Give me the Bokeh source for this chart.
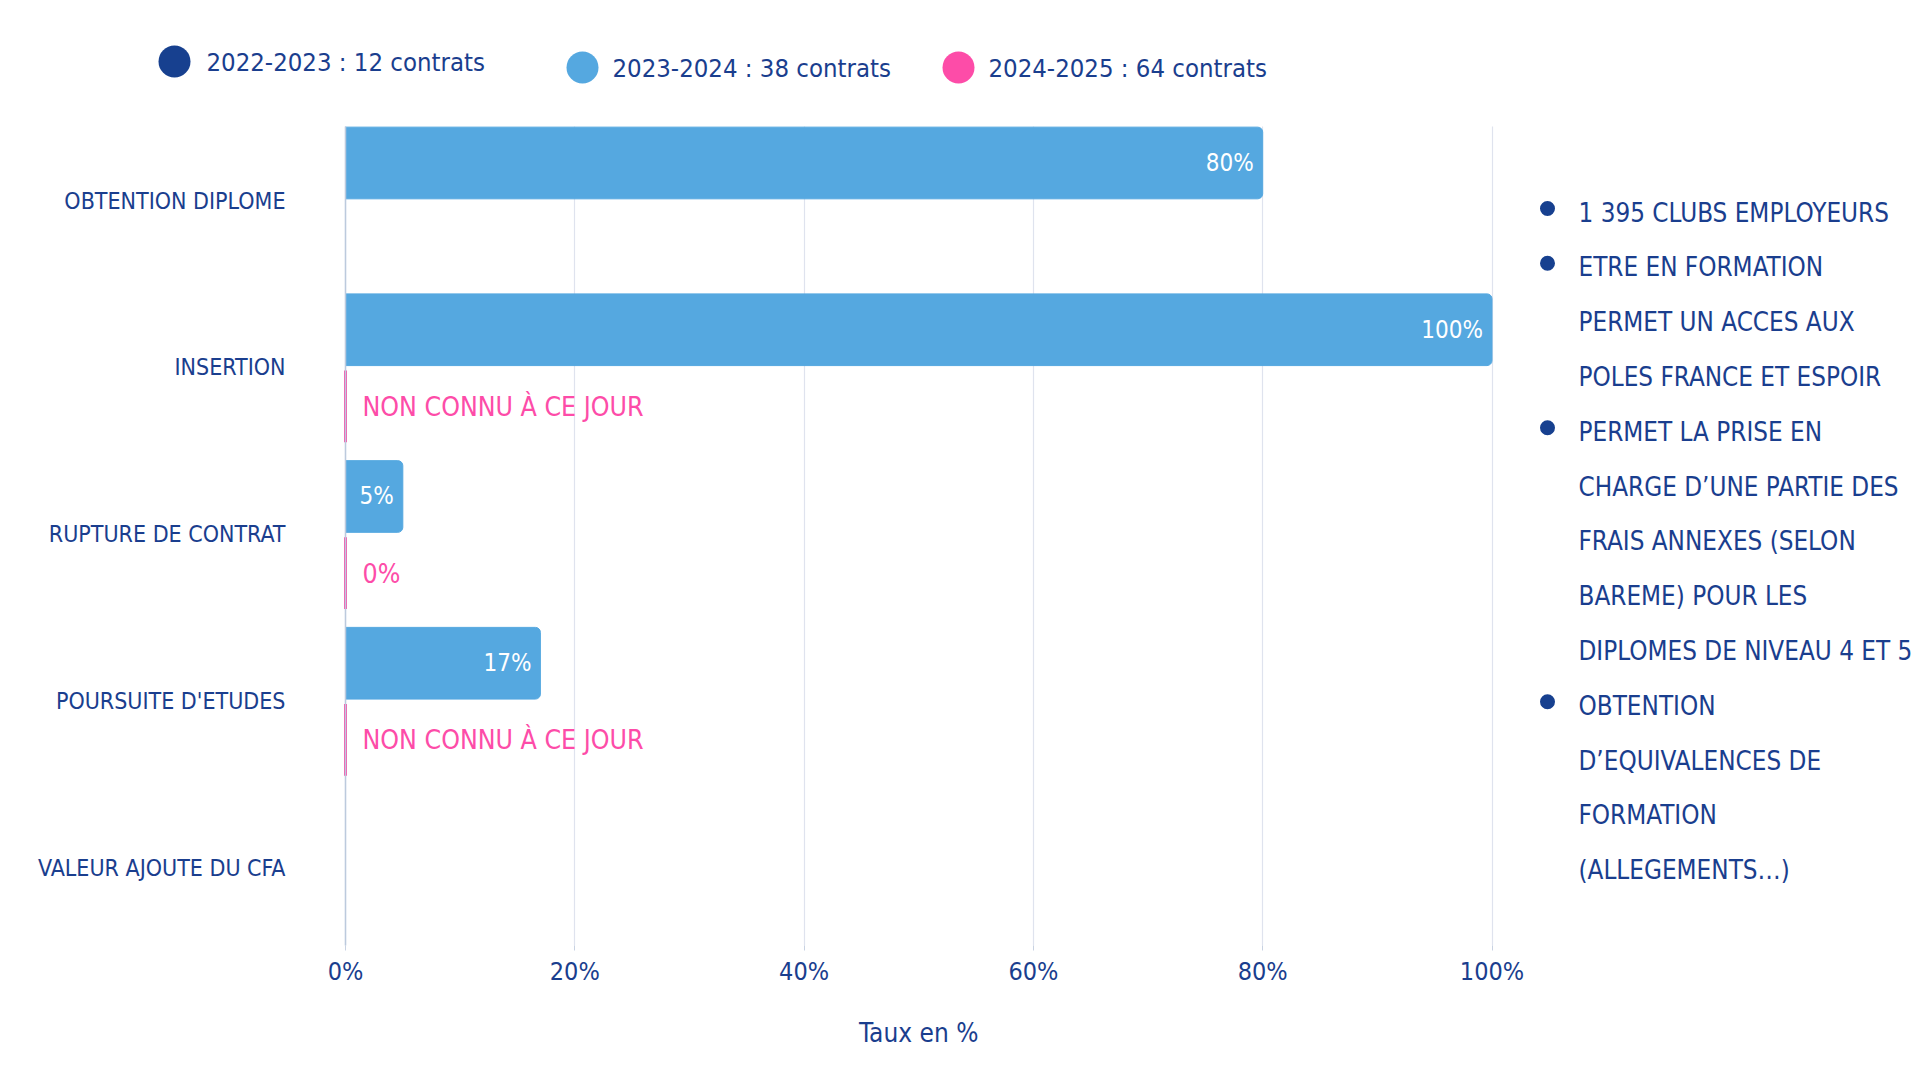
from bokeh.plotting import figure
from bokeh.models import Range1d, FixedTicker, PrintfTickFormatter, ColumnDataSource
from bokeh.transform import dodge
from bokeh.core.properties import value
from bokeh.embed import file_html
from bokeh.resources import INLINE

# ---------------- data ----------------
categories = ["OBTENTION DIPLOME", "INSERTION", "RUPTURE DE CONTRAT",
              "POURSUITE D'ETUDES", "VALEUR AJOUTE DU CFA"]
series_names = ["2022-2023  : 12 contrats", "2023-2024 : 38 contrats", "2024-2025 : 64 contrats"]
series_colors = ["#17408f", "#55a8e0", "#fd4ca8"]
values_2022 = [None, None, None, None, None]
values_2023 = [80, 100, 5, 17, None]
values_2024 = [None, 0, 0, 0, None]
labels_2024 = [None, "NON CONNU À CE JOUR", "0%", "NON CONNU À CE JOUR", None]
x_ticks = [0, 20, 40, 60, 80, 100]
axis_title = "Taux en %"
notes = [
    ["1 395 CLUBS EMPLOYEURS"],
    ["ETRE EN FORMATION", "PERMET UN ACCES AUX", "POLES FRANCE ET ESPOIR"],
    ["PERMET LA PRISE EN", "CHARGE D\u2019UNE PARTIE DES", "FRAIS ANNEXES (SELON",
     "BAREME) POUR LES", "DIPLOMES DE NIVEAU 4 ET 5"],
    ["OBTENTION", "D\u2019EQUIVALENCES DE", "FORMATION", "(ALLEGEMENTS\u2026)"],
]

# ---------------- layout helpers (page pixels -> data) ----------------
FONT = "DejaVu Sans Condensed"
NAVY = "#1a3e8e"
PX = 11.465      # pixels per percent
X0 = 345         # page x of 0%
PY = 166.75      # pixels per category
Y0 = 200         # page y of first category
PLOT_BOTTOM = 945


def dx(px):
    return (px - X0) / PX


def dy(py):
    return (py - Y0) / PY


p = figure(frame_width=1912, frame_height=1064,
           x_range=Range1d(dx(0), dx(1912)),
           y_range=Range1d(dy(1064), dy(0)),
           output_backend="svg", toolbar_location=None,
           min_border=0, background_fill_color="white",
           border_fill_color="white", outline_line_color=None)

# grid
p.ygrid.visible = False
p.xgrid.ticker = FixedTicker(ticks=x_ticks)
p.xgrid.grid_line_color = "#dfe3ee"
p.xgrid.grid_line_width = 1.2
p.xgrid.cross_bounds = (dy(126), dy(PLOT_BOTTOM))

# y axis (inside at x=0)
p.yaxis.ticker = FixedTicker(ticks=list(range(len(categories))))
p.yaxis.major_label_overrides = {i: c for i, c in enumerate(categories)}
p.yaxis.fixed_location = 0
p.yaxis.bounds = (dy(126), dy(PLOT_BOTTOM))
p.yaxis.axis_line_color = "#bccadd"
p.yaxis.axis_line_width = 1.5
p.yaxis.major_tick_line_color = None
p.yaxis.minor_tick_line_color = None
p.yaxis.major_label_standoff = 54
p.yaxis.major_label_text_font = FONT
p.yaxis.major_label_text_font_size = "23px"
p.yaxis.major_label_text_color = NAVY

# x axis (inside, at the bottom of the plotting area)
p.xaxis.ticker = FixedTicker(ticks=x_ticks)
p.xaxis.fixed_location = dy(PLOT_BOTTOM)
p.xaxis.bounds = (x_ticks[0], x_ticks[-1])
p.xaxis.formatter = PrintfTickFormatter(format="%d%%")
p.xaxis.axis_line_color = None
p.xaxis.major_tick_out = 5
p.xaxis.major_tick_in = 0
p.xaxis.major_tick_line_color = "#c8d2e2"
p.xaxis.minor_tick_line_color = None
p.xaxis.major_label_standoff = 6
p.xaxis.major_label_text_font = FONT
p.xaxis.major_label_text_font_size = "25px"
p.xaxis.major_label_text_color = NAVY

# axis title, centred under the 0-100 % span
p.text(x=[(x_ticks[0] + x_ticks[-1]) / 2], y=[dy(1032)], text=[axis_title],
       text_align="center", text_baseline="middle", text_color=NAVY,
       text_font=value(FONT), text_font_size="26px")

# ---------------- bars ----------------
OFF_2023 = -0.225
OFF_2024 = 0.235
BAR_H = 0.43

idx23 = [i for i, v in enumerate(values_2023) if v is not None]
src23 = ColumnDataSource(dict(
    idx=idx23,
    value=[values_2023[i] for i in idx23],
    label=[f"{values_2023[i]}%" for i in idx23],
))
p.hbar(y=dodge("idx", OFF_2023), left=0, right="value", height=BAR_H,
       source=src23, fill_color=series_colors[1], line_color=series_colors[1],
       line_width=1, border_radius=(0, 5, 5, 0))
p.text(x="value", y=dodge("idx", OFF_2023), text="label", source=src23,
       text_align="right", text_baseline="middle", x_offset=-9,
       text_color="white", text_font=value(FONT), text_font_size="24px")

idx24 = [i for i, v in enumerate(values_2024) if v is not None]
src24 = ColumnDataSource(dict(
    idx=idx24,
    value=[values_2024[i] for i in idx24],
    label=[labels_2024[i] for i in idx24],
))
p.hbar(y=dodge("idx", OFF_2024), left=0, right="value", height=BAR_H,
       source=src24, fill_color=series_colors[2], line_color=series_colors[2],
       line_width=3)
p.text(x="value", y=dodge("idx", OFF_2024), text="label", source=src24,
       text_align="left", text_baseline="middle", x_offset=17,
       text_color=series_colors[2], text_font=value(FONT), text_font_size="26.5px")

# ---------------- legend (top) ----------------
leg_dot_px = [174, 582, 958]
leg_txt_px = [206, 612, 988]
leg_py = [61, 67, 67]
leg_src = ColumnDataSource(dict(
    x=[dx(v) for v in leg_dot_px],
    tx=[dx(v) for v in leg_txt_px],
    y=[dy(v) for v in leg_py],
    color=series_colors,
    name=series_names,
))
p.scatter(x="x", y="y", size=32, marker="circle", fill_color="color",
          line_color=None, source=leg_src)
p.text(x="tx", y="y", text="name", source=leg_src, text_align="left",
       text_baseline="middle", text_color=NAVY, text_font=value(FONT),
       text_font_size="25.5px")

# ---------------- notes (right) ----------------
line_txt, line_y, bul_y = [], [], []
k = 0
for group in notes:
    for j, line in enumerate(group):
        yy = 212 + 54.8 * k
        line_txt.append(line)
        line_y.append(dy(yy))
        if j == 0:
            bul_y.append(dy(yy - 4))
        k += 1
p.text(x=[dx(1578)] * len(line_txt), y=line_y, text=line_txt,
       text_align="left", text_baseline="middle", text_color=NAVY,
       text_font=value(FONT), text_font_size="25.8px")
p.scatter(x=[dx(1547)] * len(bul_y), y=bul_y, size=15, marker="circle",
          fill_color=series_colors[0], line_color=None)

open("out.html", "w").write(file_html(p, INLINE))
